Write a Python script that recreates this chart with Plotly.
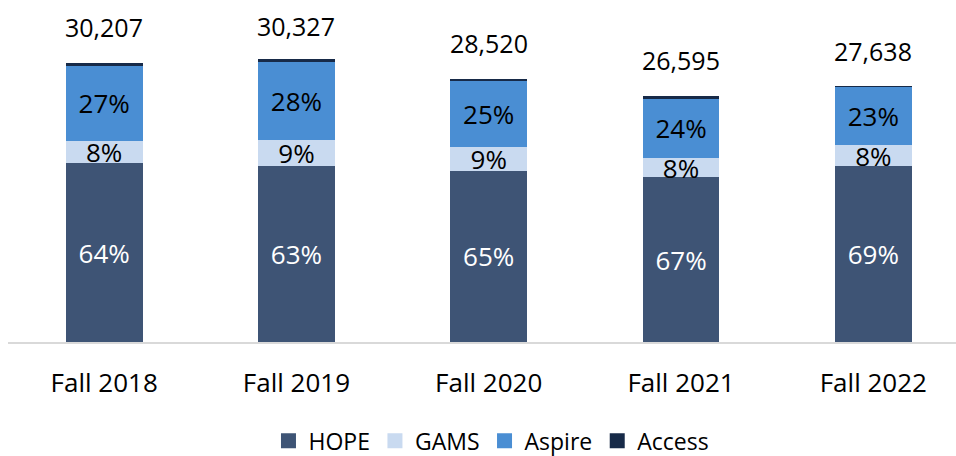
import plotly.graph_objects as go

categories = ["Fall 2018", "Fall 2019", "Fall 2020", "Fall 2021", "Fall 2022"]
totals = [30207, 30327, 28520, 26595, 27638]
hope_pct = [64, 63, 65, 67, 69]
gams_pct = [8, 9, 9, 8, 8]
aspire_pct = [27, 28, 25, 24, 23]
access_pct = [1, 1, 1, 1, 0.2]

series = [
    ("HOPE", hope_pct, "#3E5475", "white"),
    ("GAMS", gams_pct, "#C9DAF0", "black"),
    ("Aspire", aspire_pct, "#4A8ED3", "black"),
    ("Access", access_pct, "#172A48", "black"),
]

FONT = "Open Sans"
fig = go.Figure()
for name, pct, color, tcolor in series:
    vals = [p / 100 * t for p, t in zip(pct, totals)]
    show_text = name != "Access"
    fig.add_trace(go.Bar(
        name=name, x=categories, y=vals,
        marker=dict(color=color, line=dict(width=0)),
        width=0.4,
        text=[f"{p}%" for p in pct] if show_text else None,
        textposition="inside" if show_text else "none",
        insidetextanchor="middle",
        textangle=0,
        constraintext="none",
        textfont=dict(family=FONT, size=26, color=tcolor),
        hoverinfo="skip",
        showlegend=False,
    ))
    # legend entry with a larger square swatch
    fig.add_trace(go.Scatter(
        name=name, x=[None], y=[None], mode="markers",
        marker=dict(symbol="square", size=15, color=color),
        showlegend=True, hoverinfo="skip",
    ))

for c, t in zip(categories, totals):
    fig.add_annotation(x=c, y=t, text=f"{t:,}", showarrow=False,
                       yanchor="middle", yshift=36,
                       font=dict(family=FONT, size=25, color="black"))

fig.update_layout(
    barmode="stack",
    width=956, height=456,
    margin=dict(l=8, r=0, t=28, b=114, autoexpand=False),
    paper_bgcolor="white", plot_bgcolor="white",
    showlegend=True,
    legend=dict(orientation="h", x=0.51, xanchor="center", y=-0.315, yanchor="middle",
                font=dict(family=FONT, size=23, color="black"),
                traceorder="normal", itemwidth=30),
    font=dict(family=FONT),
)
fig.update_xaxes(type="category", range=[-0.5, 4.43], showline=True, linecolor="#D9D9D9",
                 linewidth=2, ticks="", ticklabelstandoff=17, automargin=False,
                 tickfont=dict(family=FONT, size=26, color="black"), showgrid=False)
fig.update_yaxes(range=[0, 34000], visible=False, showgrid=False, automargin=False)

fig.write_html("out.html", config={"displayModeBar": False},
               post_script="document.body.style.margin='0';")
